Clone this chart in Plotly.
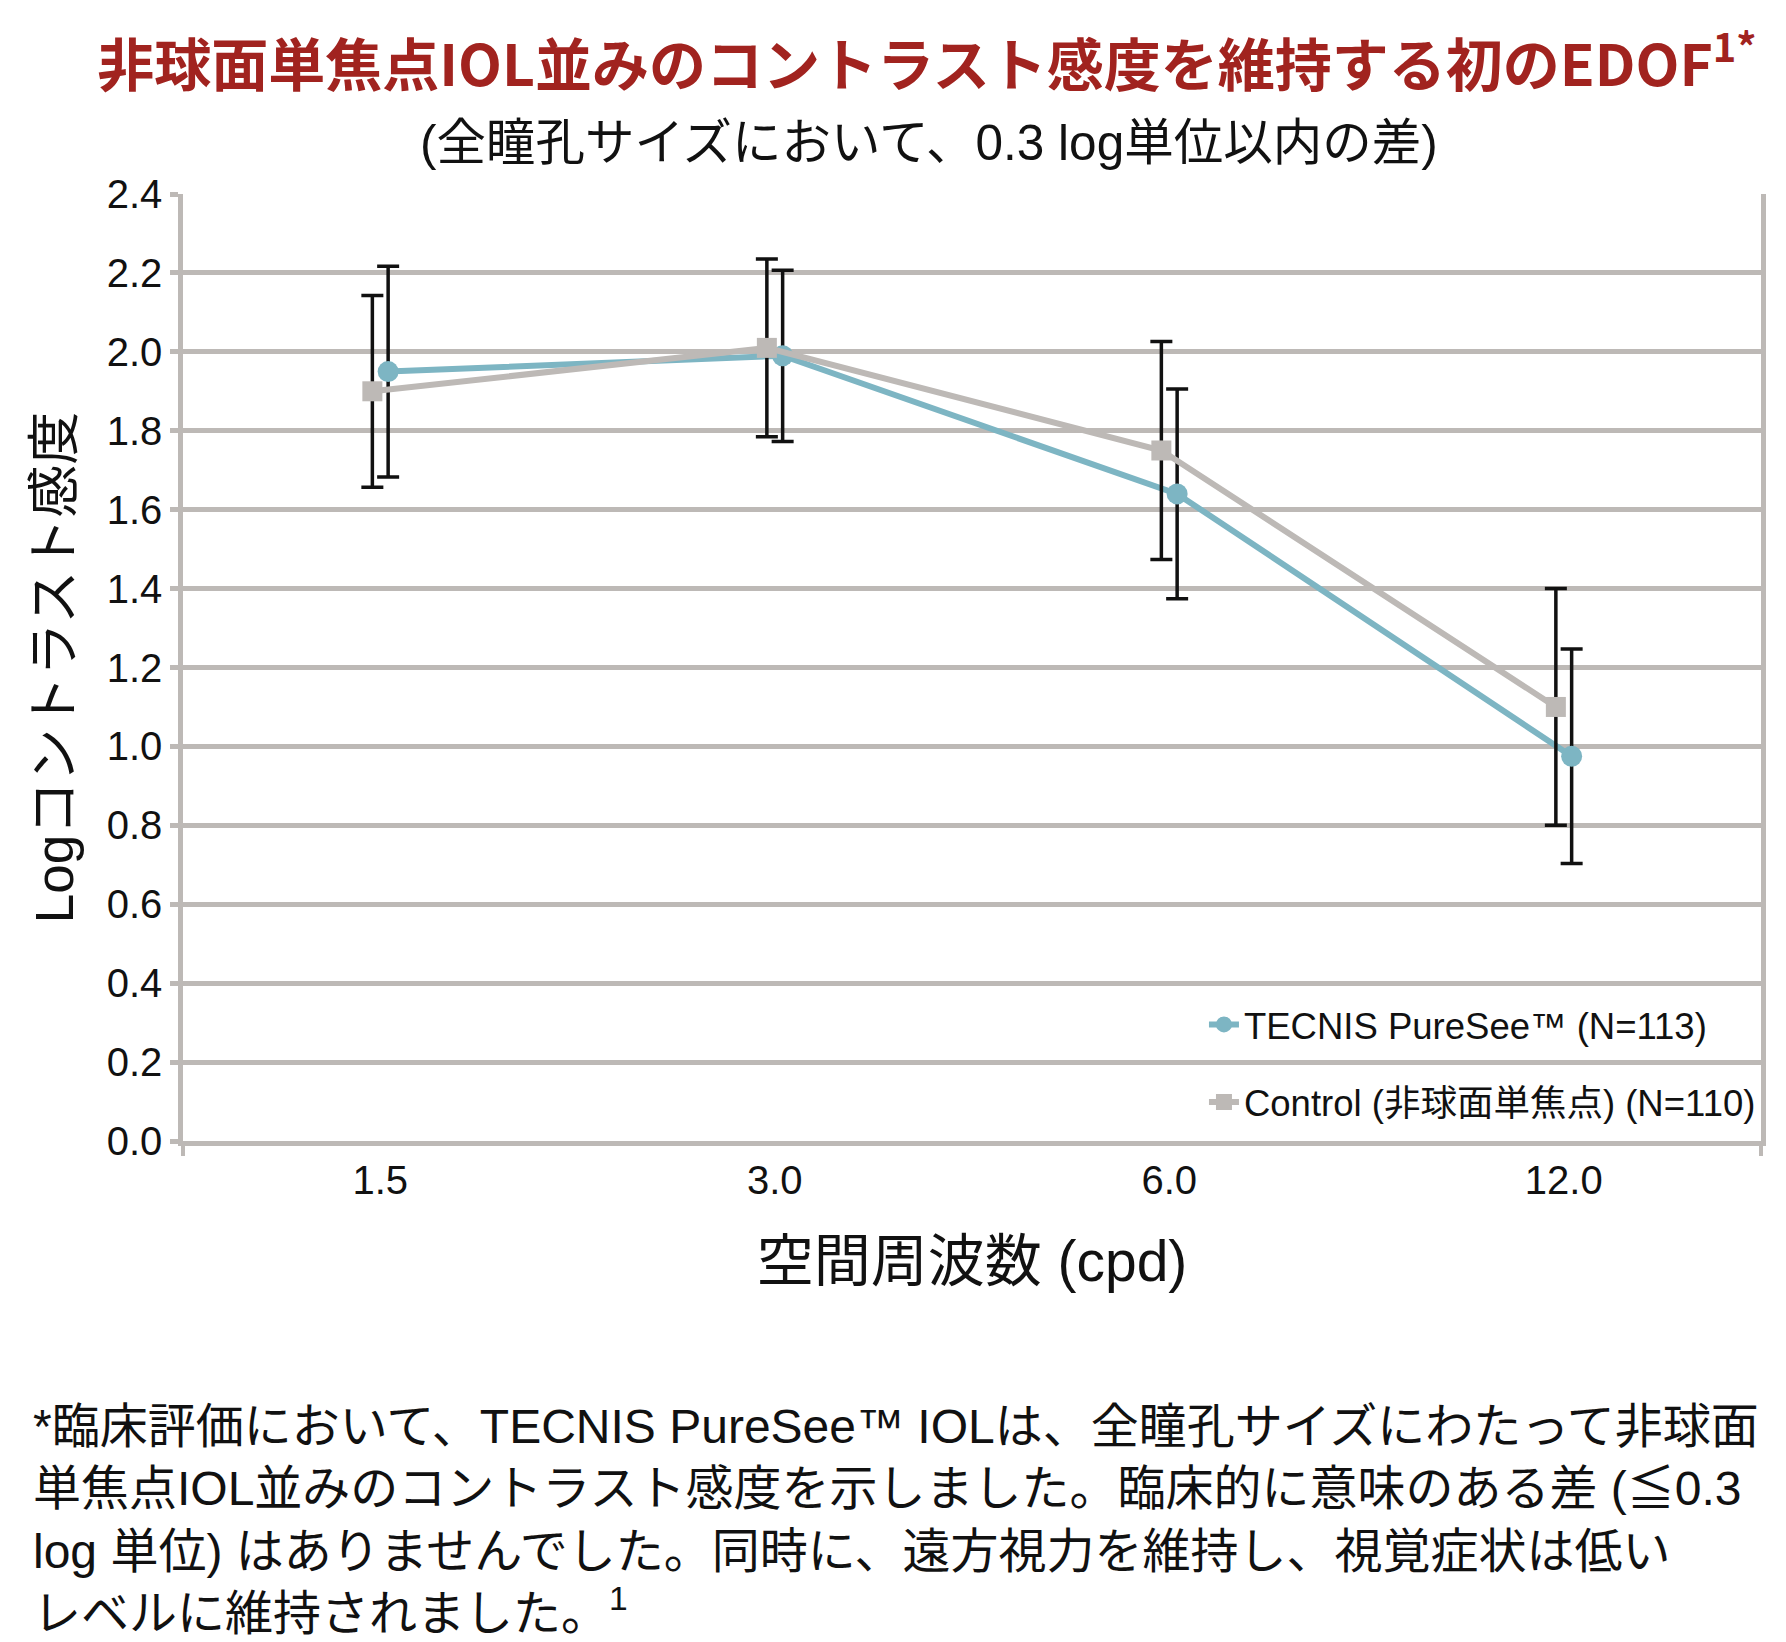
import plotly.graph_objects as go

# ---------------- data ----------------
freq_labels = ["1.5", "3.0", "6.0", "12.0"]
tecnis_vals = [1.95, 1.99, 1.64, 0.975]
tecnis_err = [0.267, 0.217, 0.266, 0.272]
control_vals = [1.90, 2.01, 1.75, 1.10]
control_err = [0.243, 0.225, 0.276, 0.30]
y_ticks = [0.0, 0.2, 0.4, 0.6, 0.8, 1.0, 1.2, 1.4, 1.6, 1.8, 2.0, 2.2, 2.4]
y_tick_text = ["0.0", "0.2", "0.4", "0.6", "0.8", "1.0", "1.2", "1.4", "1.6", "1.8", "2.0", "2.2", "2.4"]

tecnis_name = "TECNIS PureSee™ (N=113)"
control_name = "Control (非球面単焦点) (N=110)"

title_text = "非球面単焦点IOL並みのコントラスト感度を維持する初のEDOF<sup>1*</sup>"
subtitle_text = "(全瞳孔サイズにおいて、0.3 log単位以内の差)"
x_title = "空間周波数 (cpd)"
y_title = "Logコントラスト感度"
footnote_lines = [
    "*臨床評価において、TECNIS PureSee™ IOLは、全瞳孔サイズにわたって非球面",
    "単焦点IOL並みのコントラスト感度を示しました。臨床的に意味のある差 (≦0.3",
    "log 単位) はありませんでした。同時に、遠方視力を維持し、視覚症状は低い",
    "レベルに維持されました。<sup>1</sup>",
]

# ---------------- style ----------------
BLUE = "#7db5c3"
GRAY = "#bdb9b6"
GRID = "#bdb9b6"
RED = "#a1231f"
ERR = "#111111"
FONT = "Liberation Sans, Noto Sans CJK JP, sans-serif"
OFF = 0.02  # small horizontal dodge between the two series

idx = list(range(len(freq_labels)))
x_tecnis = [i + OFF for i in idx]
x_control = [i - OFF for i in idx]

fig = go.Figure()
fig.add_trace(go.Scatter(
    x=x_tecnis, y=tecnis_vals, name=tecnis_name, mode="lines+markers",
    legendgroup="t",
    line=dict(color=BLUE, width=6),
    marker=dict(symbol="circle", size=21, color=BLUE),
    error_y=dict(type="data", array=tecnis_err, visible=True,
                 color=ERR, thickness=3.5, width=11),
))
fig.add_trace(go.Scatter(
    x=x_control, y=control_vals, name=control_name, mode="lines+markers",
    legendgroup="c",
    line=dict(color=GRAY, width=6),
    marker=dict(symbol="square", size=20, color=GRAY),
    error_y=dict(type="data", array=control_err, visible=True,
                 color=ERR, thickness=3.5, width=11),
))

fig.update_layout(
    width=1786, height=1642,
    margin=dict(l=183, r=25, t=194, b=501),
    paper_bgcolor="white", plot_bgcolor="white",
    font=dict(family=FONT, color="#111111"),
    title=dict(text=title_text, x=0.519, xanchor="center", xref="container",
               y=1 - 66 / 1642, yanchor="middle", yref="container",
               font=dict(family="Noto Sans CJK JP", size=57, color=RED, weight=700)),
    showlegend=True,
    legend=dict(x=0.647, y=0.155, xanchor="left", yanchor="top",
                bgcolor="rgba(0,0,0,0)", font=dict(size=36.5, family=FONT),
                traceorder="grouped", tracegroupgap=27),
    xaxis=dict(
        range=[-0.5, 3.5], tickmode="array", tickvals=idx, ticktext=freq_labels,
        showgrid=False, zeroline=False,
        showline=True, linecolor=GRID, linewidth=4.5,
        ticks="", tickfont=dict(size=40, family=FONT), ticklabelstandoff=0,
        minor=dict(tickmode="array", tickvals=[-0.5, 3.5], ticks="outside",
                   ticklen=10, tickwidth=4, tickcolor=GRID, showgrid=False),
        title=dict(text=x_title, font=dict(size=57, family=FONT), standoff=42),
    ),
    yaxis=dict(
        range=[0, 2.4], tickmode="array", tickvals=y_ticks, ticktext=y_tick_text,
        showgrid=True, gridcolor=GRID, gridwidth=4.5, zeroline=False,
        showline=True, linecolor=GRID, linewidth=4.5, mirror=True,
        ticks="outside", ticklen=8, tickwidth=4.5, tickcolor=GRID,
        tickfont=dict(size=40, family=FONT), ticklabelstandoff=0,
        title=dict(text=y_title, font=dict(size=53, family=FONT), standoff=18),
    ),
    annotations=[
        dict(text=subtitle_text, x=0.4728, y=1.0549, xref="paper", yref="paper",
             xanchor="center", yanchor="middle", showarrow=False,
             font=dict(size=49.5, family=FONT, color="#111111")),
        dict(text="<br>".join(footnote_lines), x=-0.0964, y=-0.271,
             xref="paper", yref="paper", xanchor="left", yanchor="top",
             align="left", showarrow=False,
             font=dict(size=48, family=FONT, color="#111111")),
    ],
)

fig.write_html("out.html")
